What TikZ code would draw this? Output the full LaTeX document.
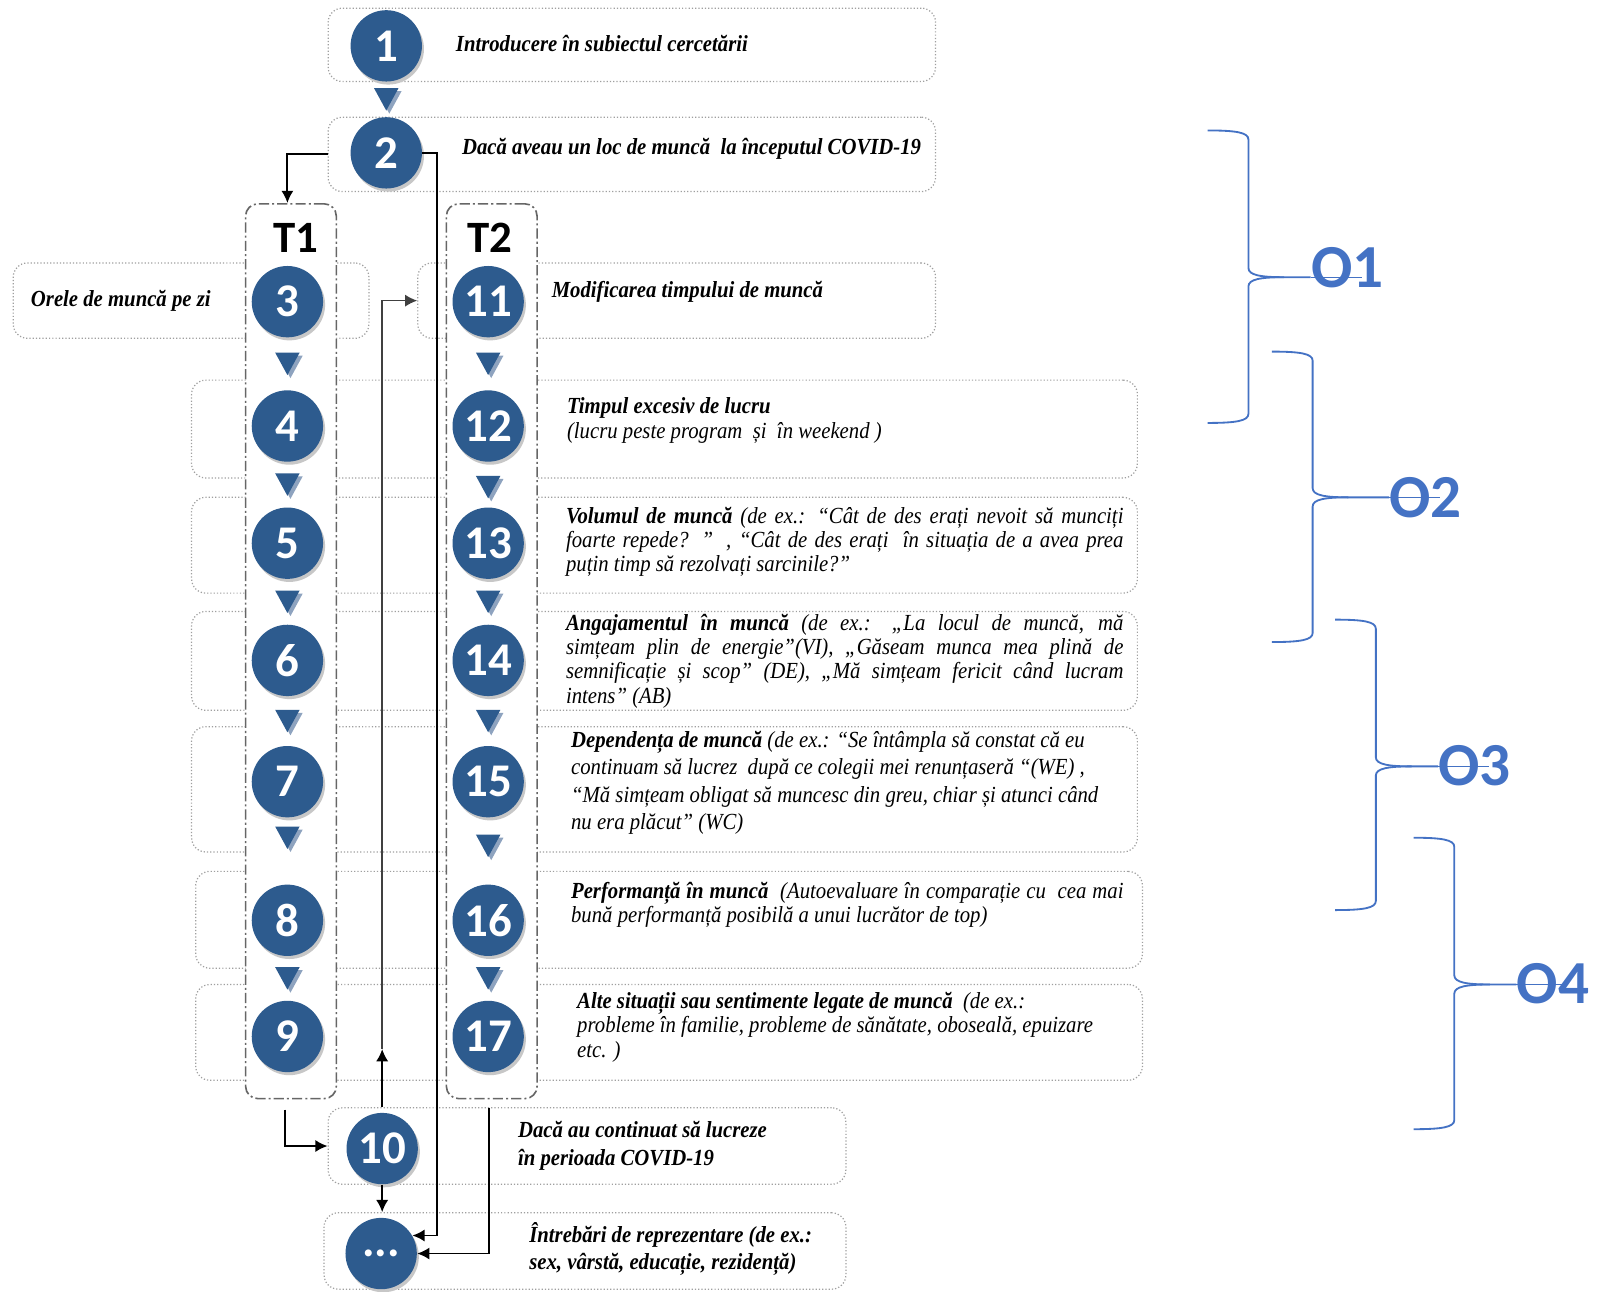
\documentclass[tikz,border=0pt]{standalone}
\usepackage{fontspec}
\setmainfont{Liberation Serif}[FakeStretch=0.9]
\newfontfamily\labfont{Carlito}
\usetikzlibrary{fit,calc,arrows.meta}
\definecolor{cblue}{HTML}{2D5B8E}
\definecolor{oblue}{HTML}{4472C4}
\definecolor{tshade}{HTML}{8EA3BF}
\tikzset{
 rowbox/.style={draw=gray!75, densely dotted, line width=0.6pt, rounded corners=7pt, inner sep=0pt},
 colbox/.style={draw=gray!80!black, fill=white, line width=0.8pt, dash pattern=on 5pt off 1.5pt on 1pt off 1.5pt, rounded corners=6pt, inner sep=0pt},
 num/.style={circle, fill=cblue, text=white, minimum size=35pt, inner sep=0pt, font=\labfont\bfseries\fontsize{23}{25}\selectfont},
 colhead/.style={font=\labfont\bfseries\fontsize{22}{24}\selectfont, inner sep=0pt},
 txt/.style={inner sep=0pt, anchor=north west, font=\itshape\fontsize{11.3}{12}\selectfont},
 txtwide/.style={inner sep=0pt, anchor=north west, font=\itshape\fontsize{11.3}{13.5}\selectfont},
 arr/.style={draw=black, line width=0.9pt, -{Latex[length=6pt,width=6pt]}},
 brace/.style={draw=oblue, line width=0.9pt},
 objlab/.style={text=oblue, font=\labfont\bfseries\fontsize{30}{32}\selectfont, inner sep=0pt, anchor=base west},
}
\newcommand\downtri[1]{%
 \fill[tshade] ($(#1)+(-9,-8)$) -- ($(#1)+(15,-8)$) -- ($(#1)+(3,14)$) -- cycle;
 \fill[cblue] ($(#1)+(-12,-11)$) -- ($(#1)+(12,-11)$) -- ($(#1)+(0,11)$) -- cycle;}
\newcommand\numc[3]{%
 \fill[black!22] ($(#2)+(2,3)$) circle (17.5pt);
 \node[num] (#1) at (#2) {#3};}
\newcommand\objbrace[7]{%
 \draw[brace] (#2,#3) .. controls (#2+28,#3) and (#2+40,#3+2) .. (#2+40,#3+9) -- (#2+40,#4-9) .. controls (#2+40,#4-2) and (#2+52,#4) .. (#2+75,#4);
 \draw[brace] (#2,#5) .. controls (#2+28,#5) and (#2+40,#5-2) .. (#2+40,#5-9) -- (#2+40,#4+9) .. controls (#2+40,#4+2) and (#2+52,#4) .. (#2+75,#4) -- (#6,#4);
 \draw[oblue, line width=0.4pt] (#6,#4) -- (#6+50,#4);
 \node[objlab] (#1) at (#6,#7) {#1};}
\begin{document}
\begin{tikzpicture}[x=0.5pt,y=-0.5pt]
\useasboundingbox (0,0) rectangle (1568,1267);
% boxes
\node[rowbox, fit={(322,8)(918,80)}] (b1) {};
\node[rowbox, fit={(322,115)(918,188)}] (b2) {};
\node[rowbox, fit={(13,258)(362,332)}] (b3) {};
\node[rowbox, fit={(410,258)(918,332)}] (b11) {};
\node[rowbox, fit={(188,373)(1116,469)}] (b12) {};
\node[rowbox, fit={(188,488)(1116,582)}] (b13) {};
\node[rowbox, fit={(188,600)(1116,697)}] (b14) {};
\node[rowbox, fit={(188,713)(1116,836)}] (b15) {};
\node[rowbox, fit={(192,855)(1121,950)}] (b16) {};
\node[rowbox, fit={(192,966)(1121,1060)}] (b17) {};
\node[rowbox, fit={(322,1087)(830,1162)}] (b10) {};
\node[rowbox, fit={(318,1190)(830,1265)}] (bdots) {};
% columns
\node[colbox, fit={(241,200)(330,1078)}] (T1col) {};
\node[colbox, fit={(438,200)(527,1078)}] (T2col) {};
\node[colhead] (T1) at (290,233) {T1};
\node[colhead] (T2) at (481,233) {T2};
% circles
\numc{c1}{379,45}{1}
\numc{c2}{379,150}{2}
\numc{c3}{282,296}{3}
\numc{c4}{282,418}{4}
\numc{c5}{282,533}{5}
\numc{c6}{282,648}{6}
\numc{c7}{282,767}{7}
\numc{c8}{282,903}{8}
\numc{c9}{282,1017}{9}
\numc{c11}{479,296}{11}
\numc{c12}{479,418}{12}
\numc{c13}{479,533}{13}
\numc{c14}{479,648}{14}
\numc{c15}{479,767}{15}
\numc{c16}{479,903}{16}
\numc{c17}{479,1017}{17}
\numc{c10}{375,1127}{10}
\numc{cdots}{374,1230}{...}
% triangles
\coordinate (tr0) at ($(c1)!0.5!(c2)$);
\coordinate (tr1) at ($(c3)!0.5!(c4)$);
\coordinate (tr2) at ($(c4)!0.5!(c5)$);
\coordinate (tr3) at ($(c5)!0.5!(c6)$);
\coordinate (tr4) at ($(c6)!0.5!(c7)$);
\coordinate (tr5) at (282,822);
\coordinate (tr6) at ($(c8)!0.5!(c9)$);
\coordinate (tq1) at ($(c11)!0.5!(c12)$);
\coordinate (tq2) at (479,478);
\coordinate (tq3) at ($(c13)!0.5!(c14)$);
\coordinate (tq4) at ($(c14)!0.5!(c15)$);
\coordinate (tq5) at (479,830);
\coordinate (tq6) at ($(c16)!0.5!(c17)$);
\foreach \t in {tr0,tr1,tr2,tr3,tr4,tr5,tr6,tq1,tq2,tq3,tq4,tq5,tq6} {\downtri{\t}}
% connectors
\draw[arr] (b2.west) -| (c3.north |- T1col.north);
\draw[arr] (c2.east) -- ++(14,0) |- (cdots.30);
\coordinate (t1out) at ($(c9.south |- T1col.south)+(-2,10)$);
\draw[arr] (t1out) |- (b10.west);
\coordinate (up1) at ($(c10.north |- b10.north)+(0,-57)$);
\draw[arr] (c10.north |- b10.north) -- (up1);
\draw[arr, line width=0.7pt, draw=black!75] (up1) |- (b11.west);
\draw[arr] (c10.south) -- (c10.south |- bdots.north);
\coordinate (t2out) at ($(c17.south |- T2col.south)+(1,8)$);
\draw[arr] (t2out) |- (cdots.east);
% texts
\node[txt] (t1) at (447,33) {\strut\bfseries Introducere în subiectul cercetării};
\node[txt] (t2) at (453,134) {\strut\bfseries Dacă aveau un loc de muncă\ \ la începutul COVID-19};
\node[txt] (t3) at (30,284) {\strut\bfseries Orele de muncă pe zi};
\node[txt] (t11) at (541,275) {\strut\bfseries Modificarea timpului de muncă};
\node[txt, align=left] (t12) at (556,389) {\strut{\bfseries Timpul excesiv de lucru}\\(lucru peste program\ \ și\ \ în weekend )};
\node[txt, text width=273.5pt, align=justify] (t13) at (555,496) {\strut{\bfseries Volumul de muncă} (de ex.: “Cât de des erați nevoit să munciți\linebreak foarte repede? ” , “Cât de des erați\ \ în situația de a avea prea\linebreak puțin timp să rezolvați sarcinile?”};
\node[txt, text width=273.5pt, align=justify] (t14) at (555,601) {\strut{\bfseries Angajamentul în muncă} (de ex.: „La locul de muncă, mă\linebreak simțeam plin de energie”(VI), „Găseam munca mea plină de\linebreak semnificație și scop” (DE), „Mă simțeam fericit când lucram\linebreak intens” (AB)};
\node[txtwide, align=left] (t15) at (560,714) {\strut{\bfseries Dependența de muncă} (de ex.: “Se întâmpla să constat că eu\\continuam să lucrez\ \ după ce colegii mei renunțaseră “(WE) ,\\“Mă simțeam obligat să muncesc din greu, chiar și atunci când\\nu era plăcut” (WC)};
\node[txt, text width=271pt, align=justify] (t16) at (560,864) {\strut{\bfseries Performanță în muncă}\ \ (Autoevaluare în comparație cu\ \ cea mai\linebreak bună performanță posibilă a unui lucrător de top)};
\node[txt, align=left] (t17) at (566,972) {\strut{\bfseries Alte situații sau sentimente legate de muncă}\ \ (de ex.:\\probleme în familie, probleme de sănătate, oboseală, epuizare\\etc. )};
\node[txtwide, align=left] (t10) at (508,1097) {\strut\bfseries Dacă au continuat să lucreze\\\bfseries în perioada COVID-19};
\node[txtwide, align=left] (tdots) at (519,1199) {\strut\bfseries Întrebări de reprezentare (de ex.:\\\bfseries sex, vârstă, educație, rezidență)};
% objective braces
\objbrace{O1}{1185}{128}{272}{415}{1286}{282}
\objbrace{O2}{1248}{345}{488}{630}{1363}{508}
\objbrace{O3}{1310}{608}{752}{893}{1411}{771}
\objbrace{O4}{1387}{822}{966}{1108}{1488}{985}
\end{tikzpicture}
\end{document}
